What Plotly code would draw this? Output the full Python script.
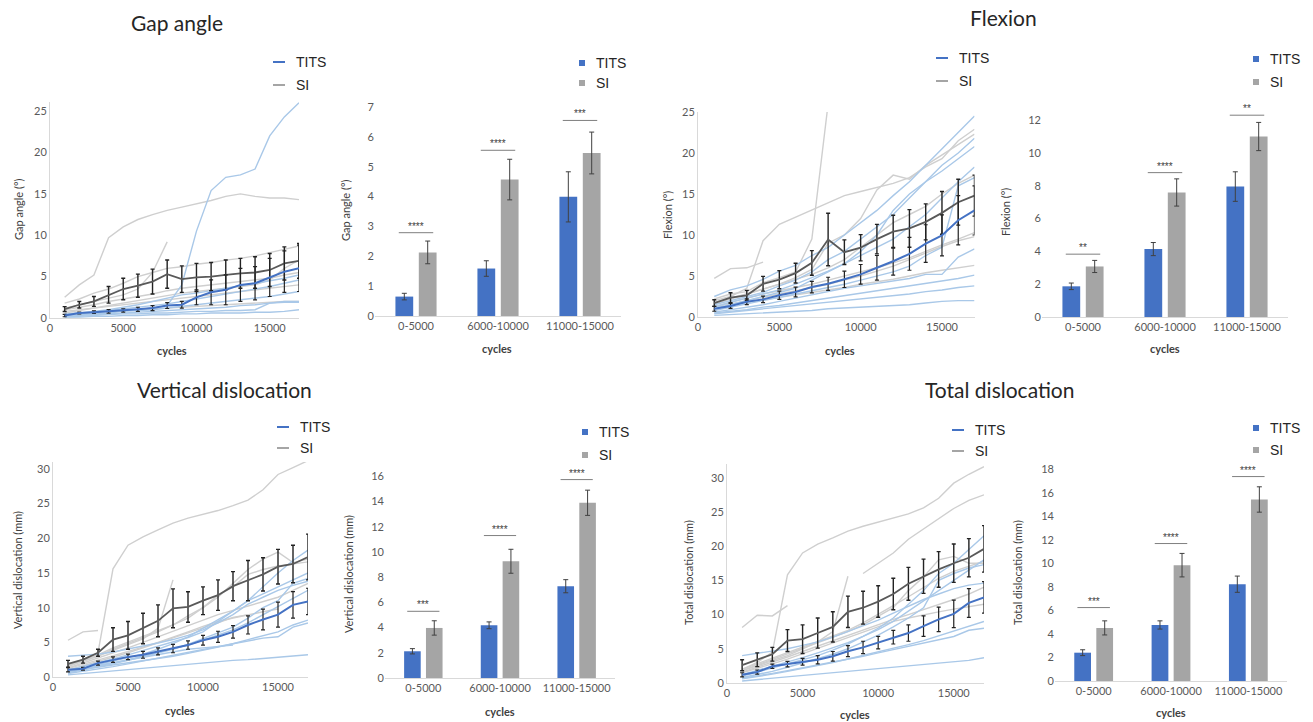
import plotly.graph_objects as go

W, H = 1313, 722

# ---------------- data ----------------
cycles = [1000 * i for i in range(1, 18)]
groups = ["0-5000", "6000-10000", "11000-15000"]

# Gap angle (line chart)
gap_tits_mean = [0.3, 0.6, 0.7, 0.8, 0.9, 1.05, 1.2, 1.5, 1.6, 2.5, 3.1, 3.4, 4.0, 4.2, 4.9, 5.6, 6.0]
gap_tits_err = [0.15, 0.1, 0.15, 0.2, 0.2, 0.25, 0.3, 0.35, 0.4, 0.9, 1.5, 1.8, 2.0, 2.0, 2.3, 2.5, 2.8]
gap_si_mean = [1.08, 1.6, 2.0, 2.8, 3.5, 3.9, 4.4, 5.3, 4.7, 4.9, 5.0, 5.2, 5.4, 5.5, 5.8, 6.6, 6.9]
gap_si_err = [0.3, 0.4, 0.6, 1.0, 1.3, 1.4, 1.5, 1.7, 1.6, 1.7, 1.7, 1.8, 1.8, 1.9, 2.0, 2.0, 2.1]
gap_si_ind = [
    [2.5, 4.0, 5.2, 9.7, 11.0, 11.9, 12.5, 13.0, 13.4, 13.8, 14.2, 14.7, 15.0, 14.7, 14.5, 14.5, 14.3],
    [1.2, 1.6, 2.0, 2.4, 2.8, 3.5, 5.5, 9.2],
    [1.8, 2.3, 3.0, 3.5, 4.2, 5.0, 5.5, 6.0, 6.2, 6.5, 6.7, 7.0, 7.2, 7.5, 7.9, 8.3, 8.7],
    [1.0, 1.3, 1.6, 2.0, 2.3, 2.6, 2.9, 3.3, 3.6, 3.8, 4.0, 4.2, 4.4, 4.6, 4.8, 5.2, 5.5],
    [0.8, 1.0, 1.2, 1.4, 1.6, 1.8, 2.0, 2.2, 2.4, 2.6, 2.8, 3.0, 3.2, 3.4, 3.6, 3.8, 4.0],
    [0.5, 0.6, 0.7, 0.8, 0.9, 1.0, 1.1, 1.2, 1.3, 1.4, 1.5, 1.6, 1.7, 1.8, 1.9, 2.0, 2.0],
    [0.6, 0.9, 1.2, 1.5, 1.8, 2.1, 2.4, 2.7, 3.0, 3.2, 3.4, 3.6, 3.8, 4.0, 4.6, 6.0, 7.0],
]
gap_tits_ind = [
    [0.5, 0.6, 0.7, 0.8, 0.9, 1.0, 1.2, 1.5, 4.0, 10.5, 15.4, 17.0, 17.3, 18.0, 22.0, 24.3, 26.0],
    [0.4, 0.6, 0.8, 1.0, 1.3, 1.6, 2.0, 2.4, 2.8, 3.0, 3.3, 3.6, 3.9, 4.2, 4.5, 4.8, 5.2],
    [0.3, 0.5, 0.7, 0.9, 1.1, 1.3, 1.5, 1.7, 2.0, 2.3, 2.6, 2.9, 3.2, 3.5, 3.8, 4.2, 4.6],
    [0.3, 0.4, 0.5, 0.6, 0.8, 0.9, 1.0, 1.2, 1.4, 1.6, 1.8, 2.0, 2.2, 2.4, 2.6, 2.9, 3.2],
    [0.2, 0.3, 0.4, 0.5, 0.6, 0.7, 0.8, 0.9, 1.0, 1.1, 1.2, 1.3, 1.5, 1.6, 1.8, 2.0, 2.0],
    [0.1, 0.1, 0.2, 0.2, 0.3, 0.3, 0.4, 0.4, 0.5, 0.5, 0.6, 0.6, 0.6, 0.7, 0.7, 0.8, 1.0],
    [0.1, 0.2, 0.3, 0.4, 0.5, 0.5, 0.6, 0.6, 0.7, 0.8, 0.8, 0.9, 0.9, 1.0, 1.8, 1.9, 1.9],
]

# Flexion (line chart)
flex_tits_mean = [1.0, 1.35, 1.85, 2.15, 2.65, 3.05, 3.65, 4.05, 4.6, 5.2, 6.0, 6.8, 7.7, 8.95, 9.95, 11.8, 13.0]
flex_tits_err = [0.3, 0.3, 0.35, 0.4, 0.5, 0.6, 0.7, 0.8, 1.0, 1.2, 1.5, 1.7, 2.0, 2.3, 2.5, 3.0, 3.0]
flex_si_mean = [1.7, 2.35, 2.65, 4.05, 4.55, 5.35, 6.6, 9.45, 7.9, 8.45, 9.5, 10.4, 10.8, 11.6, 12.7, 14.0, 14.8]
flex_si_err = [0.4, 0.6, 0.6, 0.9, 1.1, 1.2, 1.5, 3.2, 1.5, 1.6, 1.8, 2.0, 2.3, 2.2, 2.6, 2.8, 2.5]
flex_si_ind = [
    [2.2, 2.8, 3.1, 4.2, 4.8, 5.5, 9.5, 26.0],
    [4.7, 5.9, 6.0, 6.7],
    [2.0, 2.5, 3.5, 9.3, 11.3, 12.2, 13.0, 14.0, 14.8, 15.3, 15.8, 16.3, 17.0, 18.3, 19.3, 21.5, 22.9],
    [1.8, 2.3, 2.8, 3.4, 4.0, 4.8, 5.8, 9.0, 10.0, 12.0, 15.5, 17.3, 16.8, 18.5, 19.8, 21.0, 22.3],
    [1.5, 2.2, 2.8, 3.4, 4.0, 4.6, 5.2, 6.0, 7.0, 8.5, 10.0, 11.5, 12.5, 13.5, 15.0, 16.3, 17.3],
    [1.3, 1.8, 2.3, 2.8, 3.2, 3.6, 4.0, 4.5, 5.0, 5.5, 6.0, 6.6, 7.2, 8.0, 8.8, 9.5, 10.3],
    [1.2, 1.6, 2.0, 2.4, 2.8, 3.2, 3.6, 4.0, 4.5, 5.0, 5.6, 6.2, 7.0, 7.8, 8.6, 9.3, 9.8],
    [1.0, 1.4, 1.8, 2.1, 2.4, 2.7, 3.0, 3.3, 3.6, 4.0, 4.3, 4.6, 5.0, 5.4, 5.7, 6.0, 6.3],
]
flex_tits_ind = [
    [2.5, 3.3, 3.8, 4.6, 5.6, 6.3, 7.5, 8.5, 10.0, 11.5, 13.0, 14.8, 16.5, 18.5, 20.5, 22.5, 24.5],
    [1.5, 2.0, 2.5, 3.0, 3.8, 4.5, 5.5, 7.0, 8.0, 9.5, 11.0, 12.5, 14.5, 16.5, 18.5, 20.0, 21.8],
    [1.0, 1.5, 2.0, 2.5, 3.0, 3.5, 4.5, 5.5, 6.5, 8.0, 10.0, 13.0, 15.0, 16.5, 17.8, 19.3, 20.8],
    [1.2, 1.8, 2.3, 2.8, 3.3, 4.0, 4.8, 5.6, 6.5, 7.5, 8.5, 9.5, 11.0, 12.5, 14.5, 16.5, 18.3],
    [0.8, 1.2, 1.6, 2.0, 2.4, 2.8, 3.2, 3.6, 4.0, 4.5, 5.0, 5.5, 6.2, 7.5, 8.5, 16.0, 17.0],
    [0.6, 0.9, 1.2, 1.5, 1.9, 2.3, 2.7, 3.1, 3.5, 3.8, 4.1, 4.4, 4.7, 5.2, 5.2, 7.3, 8.3],
    [0.5, 0.7, 0.9, 1.2, 1.4, 1.7, 2.0, 2.3, 2.6, 2.9, 3.2, 3.5, 3.8, 4.1, 4.4, 4.7, 5.1],
    [0.4, 0.6, 0.8, 1.0, 1.2, 1.4, 1.6, 1.8, 2.0, 2.2, 2.4, 2.6, 2.8, 3.1, 3.3, 3.6, 3.8],
    [0.2, 0.3, 0.4, 0.5, 0.6, 0.7, 0.8, 1.0, 1.1, 1.2, 1.3, 1.4, 1.5, 1.7, 1.9, 2.0, 2.0],
]

# Vertical dislocation (line chart)
vert_tits_mean = [1.05, 1.2, 2.0, 2.5, 2.9, 3.2, 3.7, 4.1, 4.6, 5.3, 5.8, 6.5, 7.5, 8.3, 9.0, 10.4, 10.9]
vert_tits_err = [0.3, 0.2, 0.3, 0.4, 0.4, 0.5, 0.5, 0.6, 0.6, 0.7, 0.8, 0.9, 1.3, 1.5, 1.8, 1.9, 1.9]
vert_si_mean = [1.9, 2.5, 3.5, 5.4, 6.0, 7.0, 8.1, 9.9, 10.1, 11.0, 11.8, 13.1, 13.9, 14.8, 15.9, 16.3, 17.3]
vert_si_err = [0.5, 0.5, 0.5, 1.7, 2.0, 2.2, 2.3, 2.8, 2.2, 2.0, 2.2, 2.1, 2.9, 2.4, 2.5, 2.7, 3.3]
vert_si_ind = [
    [5.3, 6.5, 6.7],
    [1.8, 2.5, 3.5, 15.6, 19.0, 20.2, 21.2, 22.2, 22.9, 23.4, 24.0, 24.7, 25.5, 27.0, 29.2, 30.2, 31.2],
    [1.8, 2.3, 3.0, 3.8, 4.6, 5.5, 7.0, 14.0],
    [1.5, 2.2, 3.0, 4.0, 4.8, 5.6, 6.5, 7.5, 8.5, 10.0, 11.5, 13.5, 15.5, 17.0, 18.0, 16.5, 17.0],
    [1.6, 2.4, 3.2, 4.2, 5.0, 5.8, 6.6, 7.5, 8.8, 10.0, 11.8, 13.0, 14.8, 15.5, 16.0, 16.3, 16.6],
    [1.3, 2.0, 2.7, 3.4, 4.2, 5.0, 5.8, 6.6, 7.4, 8.2, 9.0, 9.6, 10.2, 10.8, 11.5, 12.5, 13.5],
    [1.2, 1.8, 2.4, 3.0, 3.7, 4.3, 5.0, 5.7, 6.5, 7.3, 8.0, 8.5, 9.0, 9.4, 9.8],
    [1.0, 1.6, 2.2, 2.8, 3.5, 4.2, 4.9, 5.6, 6.3, 7.0, 7.8, 8.6, 9.0],
]
vert_tits_ind = [
    [0.8, 1.3, 1.8, 2.3, 2.8, 3.3, 4.0, 4.8, 5.8, 7.0, 8.2, 9.5, 11.0, 13.0, 15.0, 16.8, 18.3],
    [1.0, 1.5, 2.0, 2.6, 3.2, 3.8, 4.4, 5.0, 5.7, 6.5, 8.0, 9.5, 11.0, 12.0, 13.0, 14.0, 15.0],
    [0.6, 1.0, 1.4, 1.9, 2.4, 2.9, 3.4, 4.0, 4.7, 5.5, 6.3, 7.2, 8.5, 10.0, 11.0, 13.5, 14.2],
    [0.7, 1.1, 1.5, 2.0, 2.5, 3.0, 3.5, 4.0, 4.6, 5.3, 6.0, 6.8, 7.8, 9.0, 10.2, 11.4, 12.5],
    [0.5, 0.8, 1.1, 1.5, 1.9, 2.3, 2.7, 3.1, 3.5, 3.9, 4.3, 4.8, 5.4, 6.0, 6.5, 7.5, 8.2],
    [0.8, 1.1, 1.4, 1.8, 2.1, 2.4, 2.7, 3.0, 3.4, 3.8, 4.3, 4.8, 5.2, 5.6, 5.8, 7.2, 7.8],
    [0.3, 0.5, 0.7, 0.9, 1.1, 1.3, 1.5, 1.7, 1.9, 2.1, 2.2, 2.4, 2.5, 2.7, 2.8, 3.0, 3.2],
    [3.0, 3.1, 3.3, 3.6, 4.0, 4.4, 4.9, 5.4, 6.0, 6.8, 7.8, 9.0, 10.5, 11.5, 12.5, 13.2, 13.8],
    [0.9, 1.3, 1.7, 2.1, 2.5, 2.9, 3.3, 3.7, 4.0, 4.2, 4.4, 4.6],
]

# Total dislocation (line chart)
tot_tits_mean = [1.2, 1.6, 2.45, 2.75, 3.1, 3.4, 3.9, 4.65, 5.2, 5.9, 6.7, 7.3, 8.3, 9.3, 10.1, 11.7, 12.5]
tot_tits_err = [0.3, 0.3, 0.3, 0.4, 0.5, 0.6, 0.7, 0.8, 0.9, 0.9, 1.0, 1.2, 1.5, 1.8, 2.0, 2.1, 2.3]
tot_si_mean = [2.6, 3.4, 4.2, 6.2, 6.4, 7.3, 8.2, 10.4, 11.0, 11.9, 13.0, 14.5, 15.6, 16.6, 17.5, 18.3, 19.6]
tot_si_err = [0.8, 1.0, 1.0, 1.6, 2.1, 2.2, 2.2, 2.3, 2.4, 2.3, 2.3, 2.4, 2.5, 2.6, 2.8, 2.8, 3.4]
tot_si_ind = [
    [8.1, 9.9, 9.8, 11.3],
    [2.0, 3.0, 4.5, 15.8, 19.0, 20.3, 21.2, 22.2, 22.9, 23.5, 24.0, 24.7, 25.6, 27.0, 29.2, 30.5, 31.6],
    [1.8, 2.5, 3.2, 4.0, 5.0, 6.0, 7.5, 15.6],
    [None] * 8 + [16.0, 17.5, 19.0, 21.0, 22.5, 24.0, 25.5, 26.7, 27.5],
    [1.8, 2.6, 3.4, 4.3, 5.0, 5.8, 6.6, 7.5, 8.5, 9.8, 11.0, 13.5, 15.5, 18.0, 18.5, 17.5, 17.5],
    [2.0, 2.8, 3.6, 4.5, 5.3, 6.0, 6.8, 7.7, 8.8, 10.0, 11.3, 12.6, 14.0, 15.3, 16.3, 17.0, 17.8],
    [1.6, 2.3, 3.0, 3.8, 4.6, 5.4, 6.2, 7.0, 7.8, 8.6, 9.3, 10.0, 10.7, 11.4, 12.2, 13.0, 14.0],
    [1.5, 2.1, 2.8, 3.5, 4.3, 5.0, 5.8, 6.6, 7.4, 8.2, 9.0, 9.5, 10.0, 10.4, 10.8, 11.2, 11.5],
]
tot_tits_ind = [
    [1.0, 1.6, 2.2, 2.8, 3.4, 4.0, 4.8, 5.7, 6.8, 8.0, 9.5, 11.5, 13.5, 16.0, 17.5, 19.5, 21.5],
    [1.2, 1.8, 2.4, 3.0, 3.7, 4.4, 5.1, 5.9, 6.8, 7.8, 9.0, 10.5, 12.0, 13.5, 15.0, 16.5, 18.0],
    [0.8, 1.2, 1.7, 2.3, 2.9, 3.5, 4.2, 5.0, 6.0, 7.0, 8.2, 9.5, 11.0, 15.0, 16.0, 16.8, 17.3],
    [4.0, 4.3, 4.6, 5.0, 5.5, 6.0, 6.7, 7.5, 8.3, 9.2, 10.2, 11.2, 12.2, 13.0, 13.8, 14.3, 14.6],
    [0.6, 0.9, 1.3, 1.7, 2.1, 2.5, 3.0, 3.5, 4.0, 4.5, 5.0, 5.6, 6.2, 6.9, 7.6, 8.4, 9.0],
    [0.7, 1.0, 1.4, 1.8, 2.2, 2.6, 3.0, 3.4, 3.9, 4.4, 4.9, 5.4, 5.9, 6.4, 6.8, 7.7, 8.0],
    [0.3, 0.5, 0.7, 0.9, 1.1, 1.3, 1.5, 1.7, 1.9, 2.1, 2.3, 2.5, 2.7, 2.9, 3.1, 3.3, 3.7],
]

# Bar charts (means per cycle range)
gap_bar_tits = [0.65, 1.59, 3.99]
gap_bar_tits_err = [0.11, 0.26, 0.84]
gap_bar_si = [2.13, 4.57, 5.46]
gap_bar_si_err = [0.38, 0.68, 0.70]
gap_sig = [2.79, 5.55, 6.55]
gap_sig_txt = ["****", "****", "***"]

flex_bar_tits = [1.87, 4.14, 7.95]
flex_bar_tits_err = [0.20, 0.40, 0.90]
flex_bar_si = [3.08, 7.59, 11.0]
flex_bar_si_err = [0.37, 0.83, 0.86]
flex_sig = [3.83, 8.8, 12.3]
flex_sig_txt = ["**", "****", "**"]

vert_bar_tits = [2.12, 4.18, 7.28]
vert_bar_tits_err = [0.21, 0.27, 0.52]
vert_bar_si = [3.97, 9.26, 13.9]
vert_bar_si_err = [0.57, 0.95, 1.0]
vert_sig = [5.29, 11.3, 15.74]
vert_sig_txt = ["***", "****", "****"]

tot_bar_tits = [2.41, 4.77, 8.24]
tot_bar_tits_err = [0.25, 0.35, 0.69]
tot_bar_si = [4.52, 9.86, 15.45]
tot_bar_si_err = [0.60, 1.00, 1.08]
tot_sig = [6.25, 11.7, 17.4]
tot_sig_txt = ["***", "****", "****"]

# ---------------- styling ----------------
C_TITS = "#4472C4"
C_SI = "#A5A5A5"
C_TITS_LIGHT = "#A9C8E8"
C_SI_LIGHT = "#CFCFCF"
C_SI_MEAN = "#595959"
C_ERR = "#222222"
TICK_FONT = dict(family="Lato, Open Sans, sans-serif", size=11, color="#595959")
LBL_FONT = dict(family="Lato, Open Sans, sans-serif", size=11, color="#404040")
TITLE_FONT = dict(family="Lato, Open Sans, sans-serif", size=21, color="#262626")
LEG_FONT = dict(family="Liberation Sans, Arial, sans-serif", size=14, color="#262626")


def px_x(p):
    return p / W


def px_y(p):
    return 1 - p / H


fig = go.Figure()
layout = dict(
    width=W, height=H, autosize=False, margin=dict(l=0, r=0, t=0, b=0, pad=0, autoexpand=False),
    paper_bgcolor="white", plot_bgcolor="white", showlegend=False,
    bargap=0.43, bargroupgap=0.24, barmode="group",
)
shapes, annotations = [], []

# panel geometry in pixels: (x_left, x_right, y_top, y_bottom), y range, tick step
panels = {
    1: dict(px=(50, 299, 102, 318), yr=(0, 26.1), dt=5, kind="line"),
    2: dict(px=(375, 621, 107, 316), yr=(0, 7), dt=1, kind="bar"),
    3: dict(px=(698, 974.5, 112, 317), yr=(0, 25), dt=5, kind="line"),
    4: dict(px=(1042, 1288, 107, 317), yr=(0, 12.8), dt=2, kind="bar"),
    5: dict(px=(53, 308, 462, 677), yr=(0, 31), dt=5, kind="line"),
    6: dict(px=(385, 615, 470, 678), yr=(0, 16.5), dt=2, kind="bar"),
    7: dict(px=(727, 984, 464, 683), yr=(0, 32), dt=5, kind="line"),
    8: dict(px=(1055, 1287, 466, 681), yr=(0, 18.3), dt=2, kind="bar"),
}

for k, p in panels.items():
    xl, xr, yt, yb = p["px"]
    sfx = "" if k == 1 else str(k)
    xa = dict(domain=[px_x(xl), px_x(xr)], anchor="y" + sfx, showgrid=False, zeroline=False,
              showline=True, linecolor="#D9D9D9", linewidth=1, ticks="", tickfont=TICK_FONT)
    ya = dict(domain=[px_y(yb), px_y(yt)], anchor="x" + sfx, showgrid=False, zeroline=False,
              range=list(p["yr"]), dtick=p["dt"], tick0=0, ticks="", tickfont=TICK_FONT)
    if p["kind"] == "line":
        xa.update(range=[0, 17000], dtick=5000, tick0=0, tickformat="d")
        ya.update(showline=True, linecolor="#D9D9D9", linewidth=1)
    else:
        xa.update(type="category", range=[-0.5, 2.5])
        ya.update(showline=False)
    layout["xaxis" + sfx] = xa
    layout["yaxis" + sfx] = ya


def add_line_panel(k, tits_ind, si_ind, tits_mean, tits_err, si_mean, si_err):
    sfx = "" if k == 1 else str(k)
    for s in si_ind:
        fig.add_trace(go.Scatter(x=cycles[:len(s)], y=s, mode="lines", xaxis="x" + sfx, yaxis="y" + sfx,
                                 line=dict(color=C_SI_LIGHT, width=1.4), hoverinfo="skip"))
    for s in tits_ind:
        fig.add_trace(go.Scatter(x=cycles[:len(s)], y=s, mode="lines", xaxis="x" + sfx, yaxis="y" + sfx,
                                 line=dict(color=C_TITS_LIGHT, width=1.4), hoverinfo="skip"))
    fig.add_trace(go.Scatter(x=cycles, y=si_mean, mode="lines", xaxis="x" + sfx, yaxis="y" + sfx,
                             line=dict(color=C_SI_MEAN, width=1.8),
                             error_y=dict(type="data", array=si_err, color=C_ERR, thickness=1.4, width=2)))
    fig.add_trace(go.Scatter(x=cycles, y=tits_mean, mode="lines", xaxis="x" + sfx, yaxis="y" + sfx,
                             line=dict(color=C_TITS, width=2),
                             error_y=dict(type="data", array=tits_err, color=C_ERR, thickness=1.2, width=2)))


def add_bar_panel(k, tits, tits_err, si, si_err, sig, sig_txt):
    sfx = str(k)
    fig.add_trace(go.Bar(x=groups, y=tits, name="TITS", marker=dict(color=C_TITS, line=dict(width=0)),
                         xaxis="x" + sfx, yaxis="y" + sfx,
                         error_y=dict(type="data", array=tits_err, color="#404040", thickness=1, width=2.5)))
    fig.add_trace(go.Bar(x=groups, y=si, name="SI", marker=dict(color=C_SI, line=dict(width=0)),
                         xaxis="x" + sfx, yaxis="y" + sfx,
                         error_y=dict(type="data", array=si_err, color="#404040", thickness=1, width=2.5)))
    for i, (yv, t) in enumerate(zip(sig, sig_txt)):
        shapes.append(dict(type="line", xref="x" + sfx, yref="y" + sfx, x0=i - 0.21, x1=i + 0.21,
                           y0=yv, y1=yv, line=dict(color="#7F7F7F", width=1)))
        annotations.append(dict(xref="x" + sfx, yref="y" + sfx, x=i, y=yv, text=t, showarrow=False,
                                yanchor="bottom", yshift=-1,
                                font=dict(family="Liberation Sans, Arial", size=10, color="#404040")))


add_line_panel(1, gap_tits_ind, gap_si_ind, gap_tits_mean, gap_tits_err, gap_si_mean, gap_si_err)
add_bar_panel(2, gap_bar_tits, gap_bar_tits_err, gap_bar_si, gap_bar_si_err, gap_sig, gap_sig_txt)
add_line_panel(3, flex_tits_ind, flex_si_ind, flex_tits_mean, flex_tits_err, flex_si_mean, flex_si_err)
add_bar_panel(4, flex_bar_tits, flex_bar_tits_err, flex_bar_si, flex_bar_si_err, flex_sig, flex_sig_txt)
add_line_panel(5, vert_tits_ind, vert_si_ind, vert_tits_mean, vert_tits_err, vert_si_mean, vert_si_err)
add_bar_panel(6, vert_bar_tits, vert_bar_tits_err, vert_bar_si, vert_bar_si_err, vert_sig, vert_sig_txt)
add_line_panel(7, tot_tits_ind, tot_si_ind, tot_tits_mean, tot_tits_err, tot_si_mean, tot_si_err)
add_bar_panel(8, tot_bar_tits, tot_bar_tits_err, tot_bar_si, tot_bar_si_err, tot_sig, tot_sig_txt)


def text(xp, yp, t, font, angle=0, xanchor="center"):
    annotations.append(dict(xref="paper", yref="paper", x=px_x(xp), y=px_y(yp), text=t, showarrow=False,
                            font=font, textangle=angle, xanchor=xanchor, yanchor="middle"))


# titles
text(177, 22, "Gap angle", TITLE_FONT)
text(1003, 18, "Flexion", TITLE_FONT)
text(225, 390, "Vertical dislocation", TITLE_FONT)
text(1000, 390, "Total dislocation", TITLE_FONT)

# axis titles
cyc_font = dict(family="Lato, Open Sans, sans-serif", size=11, color="#404040")
for xp, yp in [(172, 350), (497, 348), (840, 350), (1165, 348), (180, 710), (500, 711), (855, 714), (1171, 712)]:
    text(xp, yp, "<b>cycles</b>", cyc_font)
text(18, 210, "Gap angle (°)", LBL_FONT, -90)
text(345, 211, "Gap angle (°)", LBL_FONT, -90)
text(668, 215, "Flexion (°)", LBL_FONT, -90)
text(1005, 212, "Flexion (°)", LBL_FONT, -90)
text(17, 570, "Vertical dislocation (mm)", LBL_FONT, -90)
text(348, 574, "Vertical dislocation (mm)", LBL_FONT, -90)
text(688, 573, "Total dislocation (mm)", LBL_FONT, -90)
text(1017, 573, "Total dislocation (mm)", LBL_FONT, -90)


# manual legends
def line_legend(x0, y1, y2):
    for yy, col, lab in [(y1, C_TITS, "TITS"), (y2, C_SI, "SI")]:
        shapes.append(dict(type="line", xref="paper", yref="paper", x0=px_x(x0), x1=px_x(x0 + 12),
                           y0=px_y(yy), y1=px_y(yy), line=dict(color=col, width=2)))
        text(x0 + 21, yy, lab, LEG_FONT, xanchor="left")


def bar_legend(x0, y1, y2):
    for yy, col, lab in [(y1, C_TITS, "TITS"), (y2, C_SI, "SI")]:
        shapes.append(dict(type="rect", xref="paper", yref="paper", x0=px_x(x0 - 3), x1=px_x(x0 + 3),
                           y0=px_y(yy + 3), y1=px_y(yy - 3), line=dict(width=0), fillcolor=col))
        text(x0 + 12, yy, lab, LEG_FONT, xanchor="left")


line_legend(273, 62, 85)
bar_legend(582, 63, 83)
line_legend(936, 58, 81)
bar_legend(1256, 59, 82)
line_legend(277, 427, 448)
bar_legend(585, 432, 455)
line_legend(952, 430, 451)
bar_legend(1256, 428, 450)

layout["shapes"] = shapes
layout["annotations"] = annotations
fig.update_layout(**layout)
fig.write_html("out.html",
               config={"displayModeBar": False, "responsive": False},
               post_script="document.documentElement.style.margin='0px';document.body.style.margin='0px';"
                           "document.documentElement.style.overflow='hidden';document.body.style.overflow='hidden';")
